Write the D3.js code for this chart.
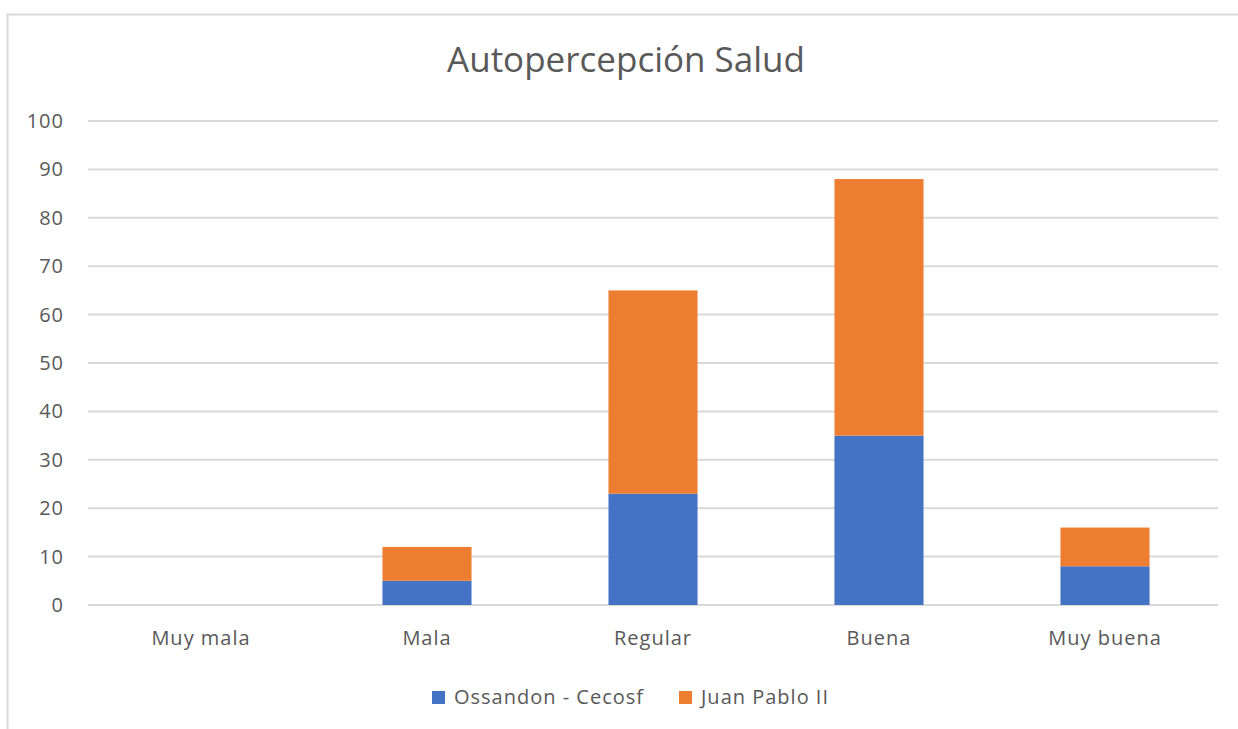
<!DOCTYPE html>
<html>
<head>
<meta charset="utf-8">
<script src="https://cdn.jsdelivr.net/npm/d3@7"></script>
<style>
    body { margin: 0; background: #fff; }
    text { font-family: "Open Sans", "Noto Sans", sans-serif; fill: #595959; }
</style>
</head>
<body>
<div id="vis"></div>
<script>
var categories = ['Muy mala', 'Mala', 'Regular', 'Buena', 'Muy buena'];
var seriesNames = ['Ossandon - Cecosf', 'Juan Pablo II'];
var ossandon = [0, 5, 23, 35, 8];
var juanPablo = [0, 7, 42, 53, 8];
var yTicks = [0, 10, 20, 30, 40, 50, 60, 70, 80, 90, 100];
var colors = ['#4472C4', '#ED7D31'];

var svg = d3.select('#vis')
    .append('svg')
    .attr('width', 1238)
    .attr('height', 729);

// chart frame, cut off at right and bottom like the source
svg.append('rect')
    .attr('x', 7.5)
    .attr('y', 14.5)
    .attr('width', 1260)
    .attr('height', 760)
    .attr('fill', 'none')
    .attr('stroke', '#D9D9D9')
    .attr('stroke-width', 2);

var margin = { left: 88, top: 121, right: 20 };
var plotRight = 1218;
var plotBottom = 605;

var xScale = d3.scaleBand()
    .domain(categories)
    .range([margin.left, plotRight])
    .paddingInner(0.606)
    .paddingOuter(0.303);

var yScale = d3.scaleLinear()
    .domain([0, 100])
    .range([plotBottom, margin.top]);

svg.append('text')
    .attr('x', 626)
    .attr('y', 72)
    .attr('text-anchor', 'middle')
    .style('font-size', '35px')
    .text('Autopercepción Salud');

// gridlines
svg.append('g')
    .selectAll('line')
    .data(yTicks)
    .enter().append('line')
    .attr('x1', margin.left)
    .attr('x2', plotRight)
    .attr('y1', function(d) { return yScale(d); })
    .attr('y2', function(d) { return yScale(d); })
    .attr('stroke', '#D9D9D9')
    .attr('stroke-width', 2);

var yAxis = d3.axisLeft(yScale)
    .tickValues(yTicks)
    .tickSize(0)
    .tickPadding(24);

var yg = svg.append('g')
    .attr('transform', 'translate(' + margin.left + ',0)')
    .call(yAxis);
yg.select('.domain').remove();
yg.selectAll('text')
    .style('font-size', '20px')
    .style('letter-spacing', '1px')
    .attr('fill', '#595959');

var stackData = categories.map(function(c, i) {
    return { cat: c, s0: ossandon[i], s1: juanPablo[i] };
});
var stack = d3.stack().keys(['s0', 's1'])(stackData);

svg.append('g')
    .selectAll('g')
    .data(stack)
    .enter().append('g')
    .attr('fill', function(d, i) { return colors[i]; })
    .selectAll('rect')
    .data(function(d) { return d; })
    .enter().append('rect')
    .attr('x', function(d) { return xScale(d.data.cat); })
    .attr('width', xScale.bandwidth())
    .attr('y', function(d) { return yScale(d[1]); })
    .attr('height', function(d) { return yScale(d[0]) - yScale(d[1]); });

var xAxis = d3.axisBottom(xScale)
    .tickSize(0)
    .tickPadding(26);

var xg = svg.append('g')
    .attr('transform', 'translate(0,' + plotBottom + ')')
    .call(xAxis);
xg.select('.domain').remove();
xg.selectAll('text')
    .style('font-size', '20px')
    .style('letter-spacing', '1px')
    .attr('fill', '#595959');

// legend
var legendX = [432, 679];
var legend = svg.append('g')
    .selectAll('g')
    .data(seriesNames)
    .enter().append('g')
    .attr('transform', function(d, i) { return 'translate(' + legendX[i] + ',691)'; });

legend.append('rect')
    .attr('width', 13)
    .attr('height', 13)
    .attr('fill', function(d, i) { return colors[i]; });

legend.append('text')
    .attr('x', 22)
    .attr('y', 13)
    .style('font-size', '20px')
    .style('letter-spacing', '1px')
    .text(function(d) { return d; });
</script>
</body>
</html>
